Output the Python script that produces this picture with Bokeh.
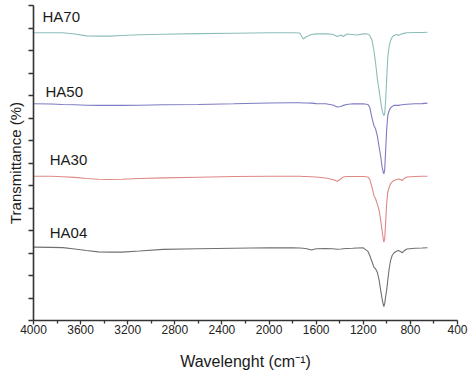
from bokeh.plotting import figure
from bokeh.models import Range1d, FixedTicker, Label, CustomJSTickFormatter
from bokeh.embed import file_html
from bokeh.resources import INLINE

# Wavenumber grid (cm-1)
wavenumber = [4000, 3850, 3750, 3650, 3550, 3450, 3350, 3250, 3100, 2900, 2600, 2300,
              2000, 1800, 1740, 1710, 1680, 1640, 1600, 1520, 1460, 1420, 1390, 1370,
              1340, 1290, 1250, 1200, 1160, 1145, 1125, 1110, 1095, 1080, 1065, 1052,
              1040, 1030, 1025, 1018, 1010, 1002, 992, 980, 968, 955, 940, 915, 900,
              885, 870, 855, 830, 760, 700, 655]

# Offset transmittance traces (arbitrary units, stacked)
ha70 = [12.79, 12.79, 12.79, 12.73, 12.65, 12.64, 12.64, 12.67, 12.70, 12.72, 12.75, 12.77,
        12.79, 12.79, 12.78, 12.51, 12.62, 12.71, 12.74, 12.74, 12.72, 12.62, 12.69, 12.62,
        12.73, 12.71, 12.69, 12.74, 12.73, 12.67, 12.44, 12.00, 11.42, 10.71, 10.22, 9.73,
        9.33, 9.16, 9.11, 9.20, 9.78, 10.67, 11.69, 12.22, 12.44, 12.59, 12.67, 12.71, 12.67,
        12.71, 12.74, 12.76, 12.79, 12.80, 12.80, 12.81]

ha50 = [9.63, 9.62, 9.60, 9.59, 9.57, 9.56, 9.56, 9.56, 9.57, 9.59, 9.60, 9.63,
        9.67, 9.68, 9.68, 9.67, 9.67, 9.66, 9.64, 9.63, 9.58, 9.49, 9.51, 9.56,
        9.60, 9.63, 9.63, 9.63, 9.60, 9.47, 8.98, 8.67, 8.51, 8.18, 7.69, 7.29,
        6.81, 6.58, 6.52, 6.71, 7.56, 8.44, 9.11, 9.33, 9.45, 9.51, 9.56, 9.56, 9.56,
        9.58, 9.59, 9.60, 9.61, 9.63, 9.64, 9.66]

ha30 = [6.41, 6.41, 6.39, 6.36, 6.31, 6.28, 6.27, 6.28, 6.31, 6.34, 6.37, 6.40,
        6.41, 6.41, 6.41, 6.40, 6.40, 6.39, 6.38, 6.33, 6.27, 6.19, 6.29, 6.38,
        6.40, 6.40, 6.40, 6.40, 6.38, 6.27, 5.91, 5.56, 5.40, 5.16, 4.89, 4.44,
        4.00, 3.60, 3.48, 3.64, 4.36, 5.16, 5.70, 5.92, 6.08, 6.16, 6.22, 6.27, 6.29,
        6.27, 6.22, 6.31, 6.38, 6.40, 6.41, 6.41]

ha04 = [3.26, 3.25, 3.24, 3.18, 3.11, 3.05, 3.04, 3.04, 3.09, 3.16, 3.19, 3.21,
        3.23, 3.23, 3.22, 3.21, 3.19, 3.13, 3.19, 3.20, 3.19, 3.17, 3.18, 3.19,
        3.20, 3.21, 3.22, 3.23, 3.07, 2.89, 2.60, 2.37, 2.29, 2.13, 1.78, 1.33,
        0.96, 0.71, 0.62, 0.76, 1.07, 1.33, 1.78, 2.31, 2.67, 2.89, 3.00, 3.09, 3.11,
        3.07, 3.01, 3.09, 3.18, 3.21, 3.22, 3.23]

series_names = ["HA70", "HA50", "HA30", "HA04"]
series_values = [ha70, ha50, ha30, ha04]
series_colors = ["#8cbdb9", "#7d7bc4", "#df8985", "#707070"]

x_ticks = [4000, 3600, 3200, 2800, 2400, 2000, 1600, 1200, 800, 400]
x_minor_ticks = [3800, 3400, 3000, 2600, 2200, 1800, 1400, 1000, 600]
y_ticks = list(range(0, 15))

FONT = "Liberation Sans"
AXIS_COLOR = "#333333"

p = figure(width=474, height=374,
           x_range=Range1d(4000, 400), y_range=Range1d(0, 14),
           output_backend="svg", toolbar_location=None,
           min_border_left=33, min_border_right=17, min_border_top=5, min_border_bottom=54)
p.outline_line_color = None
p.xgrid.grid_line_color = None
p.ygrid.grid_line_color = None
p.background_fill_color = "white"
p.border_fill_color = "white"

for name, vals, col in zip(series_names, series_values, series_colors):
    p.line(wavenumber, vals, line_color=col, line_width=1.1)

# sample labels
label_pos = {"HA70": (3924, 13.50), "HA50": (3898, 10.16), "HA30": (3862, 7.16), "HA04": (3862, 3.89)}
for name in series_names:
    lx, ly = label_pos[name]
    p.add_layout(Label(x=lx, y=ly, text=name, text_font=FONT, text_font_size="15px",
                       text_color="#1a1a1a", text_baseline="middle", text_align="left"))

# x axis
xa = p.xaxis[0]
xa.ticker = FixedTicker(ticks=x_ticks, minor_ticks=x_minor_ticks)
xa.axis_label = "Wavelenght (cm\u207b\u00b9)"
xa.axis_label_text_font = FONT
xa.axis_label_text_font_size = "16px"
xa.axis_label_text_font_style = "normal"
xa.axis_label_text_color = "#1a1a1a"
xa.axis_label_standoff = 16
xa.major_label_text_font = FONT
xa.major_label_text_font_size = "12px"
xa.major_label_text_color = "#222222"
xa.major_label_standoff = 0
xa.axis_line_color = AXIS_COLOR
xa.axis_line_width = 1.6
xa.major_tick_line_color = AXIS_COLOR
xa.minor_tick_line_color = AXIS_COLOR
xa.major_tick_line_width = 1.3
xa.minor_tick_line_width = 1.3
xa.major_tick_in = 0
xa.major_tick_out = 4
xa.minor_tick_in = 0
xa.minor_tick_out = 3

# y axis (ticks without numbers)
ya = p.yaxis[0]
ya.ticker = FixedTicker(ticks=y_ticks)
ya.formatter = CustomJSTickFormatter(code="return ''")
ya.axis_label = "Transmittance (%)"
ya.axis_label_text_font = FONT
ya.axis_label_text_font_size = "15px"
ya.axis_label_text_font_style = "normal"
ya.axis_label_text_color = "#1a1a1a"
ya.axis_label_standoff = 5
ya.major_label_standoff = 0
ya.axis_line_color = AXIS_COLOR
ya.axis_line_width = 1.6
ya.major_tick_line_color = AXIS_COLOR
ya.major_tick_line_width = 1.3
ya.major_tick_in = 0
ya.major_tick_out = 5
ya.minor_tick_line_color = None

open("out.html", "w").write(file_html(p, INLINE))
